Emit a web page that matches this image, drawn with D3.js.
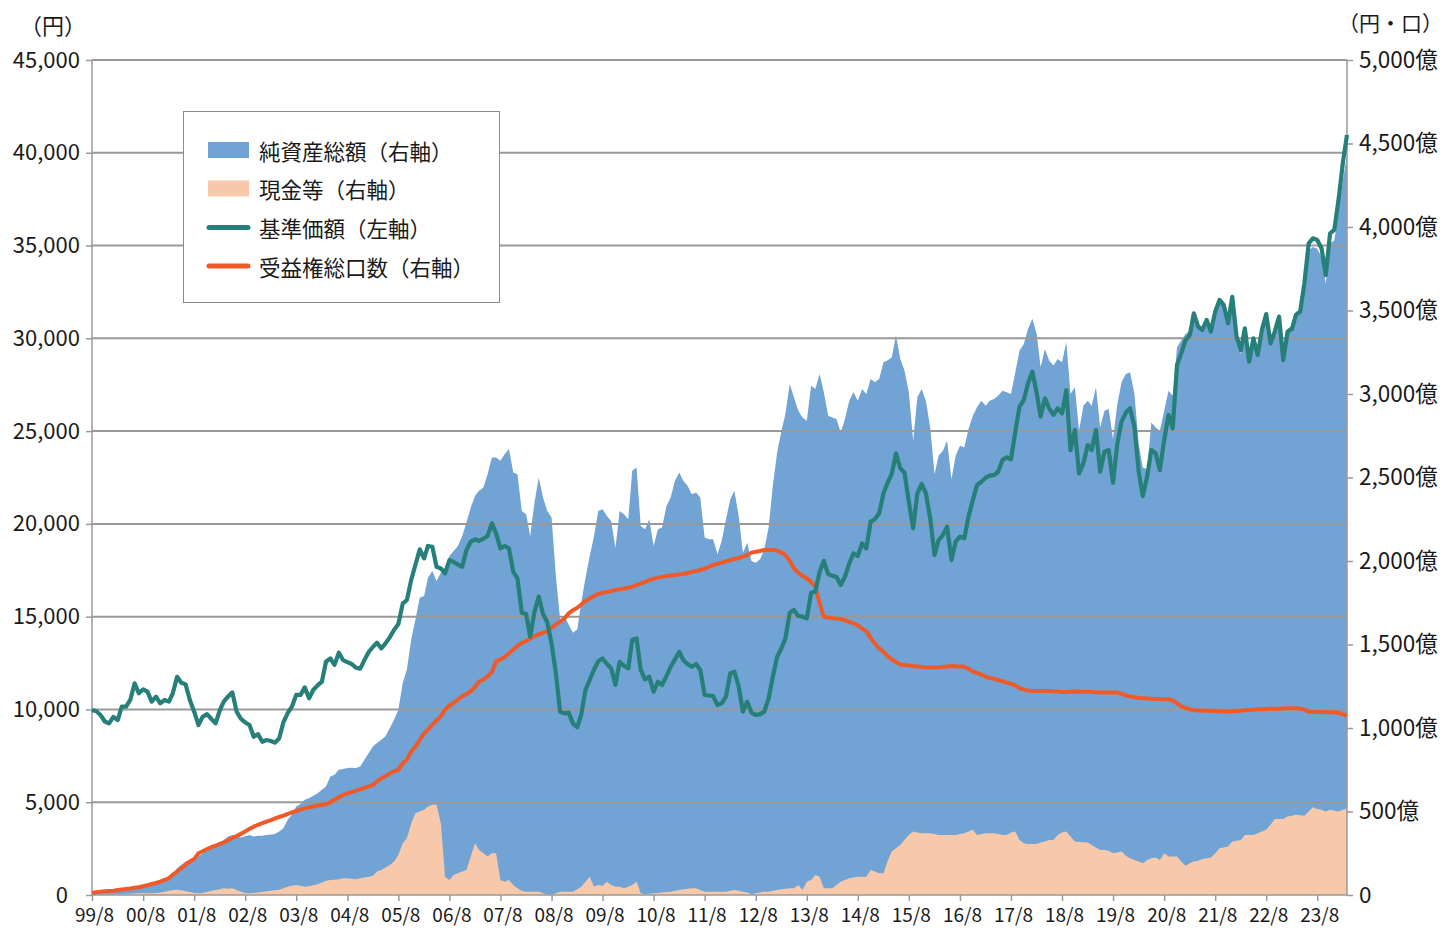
<!DOCTYPE html>
<html><head><meta charset="utf-8">
<script src="https://cdn.jsdelivr.net/npm/d3@7"></script>
<style>
body{margin:0;background:#fff;}
text{font-family:"Noto Sans CJK JP","Noto Sans",sans-serif;fill:#1a1a1a;}
</style>
</head><body>
<svg id="chart" width="1445" height="931"></svg>
<script>
// ---- data (monthly, 1999/08 .. 2024/03) ----
const firstMonth = "1999-08";
const lastMonth = "2024-03";
const xTickLabels = ["99/8","00/8","01/8","02/8","03/8","04/8","05/8","06/8","07/8","08/8","09/8","10/8","11/8","12/8","13/8","14/8","15/8","16/8","17/8","18/8","19/8","20/8","21/8","22/8","23/8"];
const leftTicks = [0,5000,10000,15000,20000,25000,30000,35000,40000,45000];
const rightTicks = [0,500,1000,1500,2000,2500,3000,3500,4000,4500,5000];
const legendLabels = ["純資産総額（右軸）","現金等（右軸）","基準価額（左軸）","受益権総口数（右軸）"];

// 基準価額 (円, left axis)
const priceValues = [
9970,9900,9700,9350,9250,9600,9430,10150,10150,10510,11410,10870,
11080,10960,10420,10690,10330,10510,10420,10870,11760,11440,11350,10510,
9880,9160,9610,9750,9500,9250,9970,10420,10700,10920,9880,9500,
9300,9160,8530,8670,8260,8350,8300,8210,8440,9300,9800,10150,
10780,10780,11190,10600,11050,11300,11500,12570,12750,12400,13060,12660,
12550,12450,12250,12200,12660,13100,13380,13600,13290,13560,13900,14280,
14600,15700,15900,16980,17800,18630,18140,18810,18770,17690,17600,17330,
18050,17950,17800,17690,18590,19050,19170,19080,19200,19350,20030,19490,
18680,18810,18680,17420,17060,15210,15140,13920,15270,16080,15140,14700,
13560,11950,9880,9790,9830,9250,9040,9700,11050,11600,12150,12600,
12750,12450,12220,11320,12570,12350,12220,13740,13830,12130,11620,11760,
10960,11490,11320,11800,12300,12700,13110,12660,12450,12300,12450,12130,
10780,10750,10720,10240,10330,10690,11950,12040,11230,9880,10420,9830,
9700,9750,9880,10600,11760,12840,13300,13830,15210,15360,15040,15000,
14910,16290,16350,17420,18010,17300,17200,17150,16710,17150,17870,18410,
18270,18950,18680,20120,20250,20570,21650,22190,22690,23800,23000,22760,
21200,19760,21650,22150,21650,20300,18320,19130,19400,19850,18050,19040,
19310,19220,20390,21290,22090,22270,22490,22600,22630,22810,23440,23590,
23480,24970,26320,26680,27580,28200,27040,25780,26770,26230,25870,26230,
25960,27210,23980,25060,22720,23260,24250,23980,25060,22810,23890,23980,
22220,24340,25510,26000,26230,25240,22810,21500,22540,23980,23800,22900,
24520,25870,25150,28560,29190,29910,30180,31350,30630,30450,30990,30360,
31440,32070,31800,30810,32240,30090,29370,30540,28740,30000,29100,30450,
31310,29730,30360,31170,28830,30360,30500,31260,31440,32970,35120,35390,
35300,34850,33410,35660,35840,37500,39500,40960];

// 純資産総額 (億円, right axis)
const navValues = [
14,16,19,21,22,25,28,33,36,41,49,50,
58,64,69,77,83,95,105,125,160,180,200,210,
212,230,250,268,280,290,305,330,350,360,350,345,
352,360,350,355,355,360,362,365,380,400,450,480,
530,545,570,580,595,610,630,650,710,720,750,755,
760,762,760,770,810,850,890,910,930,950,1000,1050,
1110,1270,1350,1530,1650,1780,1790,1900,1940,1880,1930,1960,
2030,2060,2090,2150,2230,2320,2390,2420,2440,2520,2620,2620,
2600,2640,2670,2530,2520,2300,2280,2150,2350,2500,2380,2300,
2260,1910,1650,1670,1620,1570,1590,1750,1900,2030,2150,2300,
2310,2270,2240,2080,2300,2280,2250,2540,2560,2210,2190,2250,
2090,2190,2200,2330,2380,2480,2530,2480,2450,2400,2410,2380,
2140,2130,2130,2040,2120,2250,2370,2420,2270,2050,2110,2000,
1990,2010,2070,2200,2450,2650,2780,2880,3060,2980,2900,2860,
2840,3050,3030,3120,3010,2870,2860,2850,2770,2850,2960,3010,
2960,3030,3000,3090,3070,3090,3190,3200,3220,3350,3210,3140,
3010,2720,2980,3030,2960,2800,2520,2630,2660,2720,2490,2630,
2690,2680,2790,2870,2920,2960,2930,2960,2970,2990,3020,3010,
3000,3130,3260,3300,3390,3450,3360,3160,3270,3200,3170,3210,
3190,3310,3000,3040,2780,2930,2960,2930,3040,2800,2900,2910,
2730,2940,3070,3120,3130,3000,2700,2560,2550,2830,2800,2780,
2900,3020,2990,3280,3320,3360,3380,3480,3420,3400,3440,3420,
3500,3570,3540,3440,3580,3320,3240,3380,3180,3330,3240,3390,
3490,3320,3390,3480,3220,3390,3410,3490,3510,3660,3860,3880,
3870,3820,3660,3900,3920,4090,4280,4430];

// 現金等 (億円, right axis)
const cashValues = [
2,3,3,4,5,5,6,6,8,8,10,10,
12,10,10,12,15,20,25,30,32,28,22,18,
12,10,12,18,25,30,35,40,38,40,30,20,
12,10,12,15,18,22,25,28,32,40,50,55,
60,55,50,52,58,65,75,85,90,92,95,100,
100,98,95,100,105,110,115,140,150,165,180,200,
240,310,340,430,490,500,510,530,540,540,430,110,
90,120,130,140,150,230,310,270,250,230,250,250,
90,80,90,60,40,25,20,20,20,20,10,5,
2,10,20,20,20,20,35,50,80,110,50,60,
55,80,60,50,50,40,50,60,80,10,5,8,
10,12,15,18,20,25,30,35,38,40,40,30,
20,20,20,20,20,20,25,30,25,20,15,5,
10,15,20,20,25,30,35,38,40,40,60,30,
80,90,120,110,40,40,40,60,80,90,100,105,
110,110,110,150,140,130,130,200,260,280,300,330,
360,380,375,370,370,370,365,360,360,360,360,360,
365,370,380,390,360,365,370,370,370,365,360,360,
375,380,330,310,305,305,305,315,320,330,330,360,
375,380,350,320,318,316,315,300,285,270,270,265,
250,255,260,235,220,210,200,190,210,220,225,210,
250,230,230,230,200,175,190,200,205,215,220,225,
250,280,285,290,320,325,330,360,360,360,370,380,
390,420,455,455,455,470,475,480,478,475,500,525,
515,510,500,510,505,500,510,520];

// 受益権総口数 (億口, right axis)
const unitValues = [
14,17,20,22,24,26,30,33,36,39,43,46,
52,58,66,72,80,90,100,122,140,160,182,200,
215,250,262,275,286,295,306,316,328,342,353,366,
380,396,409,420,430,440,449,458,467,476,485,495,
503,511,519,525,530,535,540,543,555,570,585,599,
608,616,625,633,641,650,659,680,699,710,729,740,
749,790,810,860,888,930,968,990,1020,1045,1070,1110,
1135,1150,1170,1190,1204,1220,1247,1277,1290,1310,1334,1400,
1410,1425,1447,1470,1490,1510,1520,1535,1550,1560,1570,1580,
1600,1620,1637,1655,1687,1705,1720,1740,1760,1775,1790,1802,
1810,1815,1820,1826,1830,1835,1840,1846,1855,1865,1875,1886,
1893,1900,1905,1910,1913,1916,1919,1922,1928,1935,1940,1946,
1955,1965,1976,1983,1990,1998,2006,2012,2018,2026,2035,2050,
2055,2060,2066,2066,2066,2062,2050,2036,2000,1956,1930,1912,
1896,1875,1846,1747,1666,1662,1658,1655,1652,1645,1635,1627,
1615,1595,1580,1540,1505,1477,1455,1430,1410,1395,1380,1377,
1375,1371,1368,1366,1364,1363,1363,1364,1366,1368,1371,1370,
1369,1367,1355,1337,1330,1320,1307,1300,1295,1287,1280,1272,
1265,1255,1238,1230,1225,1222,1222,1222,1222,1222,1220,1218,
1216,1216,1217,1217,1218,1217,1217,1217,1213,1212,1212,1212,
1212,1212,1205,1195,1188,1185,1180,1178,1176,1175,1174,1173,
1172,1172,1165,1148,1130,1120,1112,1107,1105,1105,1104,1104,
1102,1100,1099,1098,1100,1102,1104,1106,1108,1110,1112,1112,
1114,1115,1116,1116,1117,1118,1118,1118,1115,1110,1098,1096,
1096,1096,1095,1095,1094,1090,1082,1074];

// ---- layout ----
const W = 1445, H = 931;
const M = {left: 92, right: 1347, top: 60, bottom: 895};
const colors = {nav: "#71a3d5", cash: "#f7c9aa", price: "#268079", units: "#f05a28", grid: "#999999", axis: "#999999"};

const parseM = d3.timeParse("%Y-%m");
const months = d3.timeMonth.range(parseM(firstMonth), d3.timeMonth.offset(parseM(lastMonth), 1));
const rows = months.map((d, i) => ({date: d, price: priceValues[i], nav: navValues[i], cash: cashValues[i], units: unitValues[i]}));

const x = d3.scaleTime().domain([months[0], months[months.length - 1]]).range([M.left, M.right]);
const yL = d3.scaleLinear().domain([0, 45000]).range([M.bottom, M.top]);
const yR = d3.scaleLinear().domain([0, 5000]).range([M.bottom, M.top]);

const svg = d3.select("#chart");
svg.append("rect").attr("width", W).attr("height", H).attr("fill", "#fff");

// areas
svg.append("path").datum(rows).attr("fill", colors.nav)
  .attr("d", d3.area().x(d => x(d.date)).y0(yR(0)).y1(d => yR(d.nav)));
svg.append("path").datum(rows).attr("fill", colors.cash)
  .attr("d", d3.area().x(d => x(d.date)).y0(yR(0)).y1(d => yR(d.cash)));

// gridlines (left axis ticks)
svg.append("g").selectAll("line").data(leftTicks.filter(v => v > 0)).join("line")
  .attr("x1", M.left).attr("x2", M.right)
  .attr("y1", d => yL(d)).attr("y2", d => yL(d))
  .attr("stroke", colors.grid).attr("stroke-width", 2);

// left axis
const leftAxis = d3.axisLeft(yL).tickValues(leftTicks).tickFormat(d3.format(",")).tickSize(6).tickPadding(6);
const gL = svg.append("g").attr("transform", `translate(${M.left},0)`).call(leftAxis);
// right axis
const rightAxis = d3.axisRight(yR).tickValues(rightTicks).tickFormat(d => d === 0 ? "0" : d3.format(",")(d) + "億").tickSize(6).tickPadding(6);
const gR = svg.append("g").attr("transform", `translate(${M.right},0)`).call(rightAxis);
// bottom axis
const tickDates = xTickLabels.map(s => { const [yy, mm] = s.split("/").map(Number); return new Date(yy > 50 ? 1900 + yy : 2000 + yy, mm - 1, 1); });
const bottomAxis = d3.axisBottom(x).tickValues(tickDates).tickFormat((d, i) => xTickLabels[i]).tickSize(6).tickPadding(8);
const gB = svg.append("g").attr("transform", `translate(0,${M.bottom})`).call(bottomAxis);

[gL, gR, gB].forEach(g => {
  g.select(".domain").attr("stroke", colors.axis).attr("stroke-width", 1.5);
  g.selectAll(".tick line").attr("stroke", colors.axis).attr("stroke-width", 1.5);
  g.selectAll(".tick text").attr("fill", "#1a1a1a").style("font-family", '"Noto Sans CJK JP","Noto Sans",sans-serif');
});
gL.selectAll(".tick text").style("font-size", "22px");
gL.selectAll(".tick text").filter(d => d === 0).attr("dx", "-12");
gR.selectAll(".tick text").style("font-size", "22.5px");
gB.selectAll(".tick text").style("font-size", "19px").attr("dx", "2");
gL.select(".domain").attr("d", `M0,${M.top}V${M.bottom}`);
gR.select(".domain").attr("d", `M0,${M.top}V${M.bottom}`);
gB.select(".domain").attr("d", `M${M.left},0H${M.right}`);

// lines
svg.append("path").datum(rows).attr("fill", "none").attr("stroke", colors.units)
  .attr("stroke-width", 4).attr("stroke-linejoin", "round")
  .attr("d", d3.line().x(d => x(d.date)).y(d => yR(d.units)));
svg.append("path").datum(rows).attr("fill", "none").attr("stroke", colors.price)
  .attr("stroke-width", 4.2).attr("stroke-linejoin", "round")
  .attr("d", d3.line().x(d => x(d.date)).y(d => yL(d.price)));

// axis titles
svg.append("text").attr("x", 53).attr("y", 28).attr("text-anchor", "middle").attr("dominant-baseline", "middle").style("font-size", "22px").text("（円）");
svg.append("text").attr("x", 1443).attr("y", 25).attr("text-anchor", "end").attr("dominant-baseline", "middle").style("font-size", "21px").text("（円・口）");

// legend
const lg = svg.append("g");
lg.append("rect").attr("x", 183.5).attr("y", 111.5).attr("width", 316).attr("height", 191)
  .attr("fill", "#fff").attr("stroke", "#8c8c8c").attr("stroke-width", 1);
const legendY = [150, 188.5, 227.5, 266];
const legendKinds = ["area", "area", "line", "line"];
const legendColors = [colors.nav, colors.cash, colors.price, colors.units];
legendLabels.forEach((lab, i) => {
  if (legendKinds[i] === "area") {
    lg.append("rect").attr("x", 208).attr("y", legendY[i] - 8).attr("width", 41).attr("height", 16).attr("fill", legendColors[i]);
  } else {
    lg.append("line").attr("x1", 209).attr("x2", 248).attr("y1", legendY[i]).attr("y2", legendY[i])
      .attr("stroke", legendColors[i]).attr("stroke-width", 5).attr("stroke-linecap", "round");
  }
  lg.append("text").attr("x", 259).attr("y", legendY[i]).attr("dominant-baseline", "central")
    .style("font-size", "21.5px").text(lab);
});
</script>
</body></html>
